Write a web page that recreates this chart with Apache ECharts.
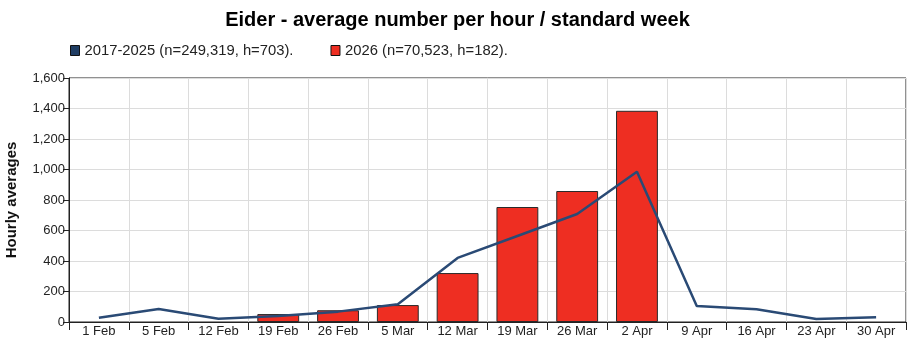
<!DOCTYPE html>
<html>
<head>
<meta charset="utf-8">
<script src="https://cdn.jsdelivr.net/npm/echarts@6/dist/echarts.min.js"></script>
<style>
  html, body { margin: 0; padding: 0; background: #fff; }
  #chart { width: 915px; height: 351px; }
</style>
</head>
<body>
<div id="chart"></div>
<script>
// standard weeks on the x axis
var weeks = ['1 Feb', '5 Feb', '12 Feb', '19 Feb', '26 Feb', '5 Mar', '12 Mar',
  '19 Mar', '26 Mar', '2 Apr', '9 Apr', '16 Apr', '23 Apr', '30 Apr'];

// 2017-2025 average (line)
var avgPrev = [28, 85, 22, 39, 68, 116, 420, 564, 708, 985, 105, 83, 20, 31];

// 2026 (bars)
var avgCur = [null, null, null, 52, 77, 111, 321, 754, 859, 1385, null, null, null, null];

var yTicks = { min: 0, max: 1600, interval: 200 };

var chart = echarts.init(document.getElementById('chart'));
var font = '"Liberation Sans", Arial, sans-serif';

chart.setOption({
  animation: false,
  textStyle: { fontFamily: font },
  title: {
    text: 'Eider - average number per hour / standard week',
    left: 'center',
    top: 5,
    textStyle: { fontSize: 20, fontWeight: 'bold', color: '#000', fontFamily: font }
  },
  legend: {
    left: 65,
    top: 38,
    itemGap: 37,
    itemWidth: 9,
    itemHeight: 10,
    icon: 'rect',
    textStyle: { fontSize: 14.8, color: '#222', fontFamily: font },
    data: [
      { name: '2017-2025 (n=249,319, h=703).', itemStyle: { color: '#1f3d63', borderColor: '#111', borderWidth: 1 } },
      { name: '2026 (n=70,523, h=182).', itemStyle: { color: '#ee2e22', borderColor: '#111', borderWidth: 1 } }
    ]
  },
  grid: {
    left: 69, right: 9, top: 78, bottom: 29,
    outerBoundsMode: 'none',
    containLabel: false,
    show: true, borderColor: '#222', borderWidth: 1
  },
  xAxis: {
    type: 'category',
    data: weeks,
    axisLine: { lineStyle: { color: '#222', width: 1 } },
    axisTick: { show: true, length: 8, lineStyle: { color: '#222' } },
    axisLabel: { fontSize: 13, color: '#222', margin: 3, fontFamily: font },
    splitLine: { show: true, lineStyle: { color: '#dcdcdc', width: 1 } }
  },
  yAxis: {
    type: 'value',
    min: yTicks.min, max: yTicks.max, interval: yTicks.interval,
    name: 'Hourly averages',
    nameLocation: 'middle',
    nameGap: 50,
    nameTextStyle: { fontSize: 15, fontWeight: 'bold', color: '#111', fontFamily: font },
    axisLine: { show: true, lineStyle: { color: '#222', width: 1 } },
    axisTick: { show: true, length: 6, lineStyle: { color: '#222' } },
    axisLabel: {
      fontSize: 13, color: '#222', margin: 4, fontFamily: font,
      formatter: function (v) { return v.toLocaleString('en-US'); }
    },
    splitLine: { show: true, lineStyle: { color: '#dcdcdc', width: 1 } }
  },
  series: [
    {
      name: '2026 (n=70,523, h=182).',
      type: 'bar',
      data: avgCur,
      barWidth: '70%',
      z: 2,
      itemStyle: { color: '#ee2e22', borderColor: '#2a2a2a', borderWidth: 1 }
    },
    {
      name: '2017-2025 (n=249,319, h=703).',
      type: 'line',
      data: avgPrev,
      z: 3,
      showSymbol: false,
      symbol: 'none',
      lineStyle: { color: '#2a4a75', width: 2.5 },
      itemStyle: { color: '#1f3d63' }
    }
  ]
});
</script>
</body>
</html>
